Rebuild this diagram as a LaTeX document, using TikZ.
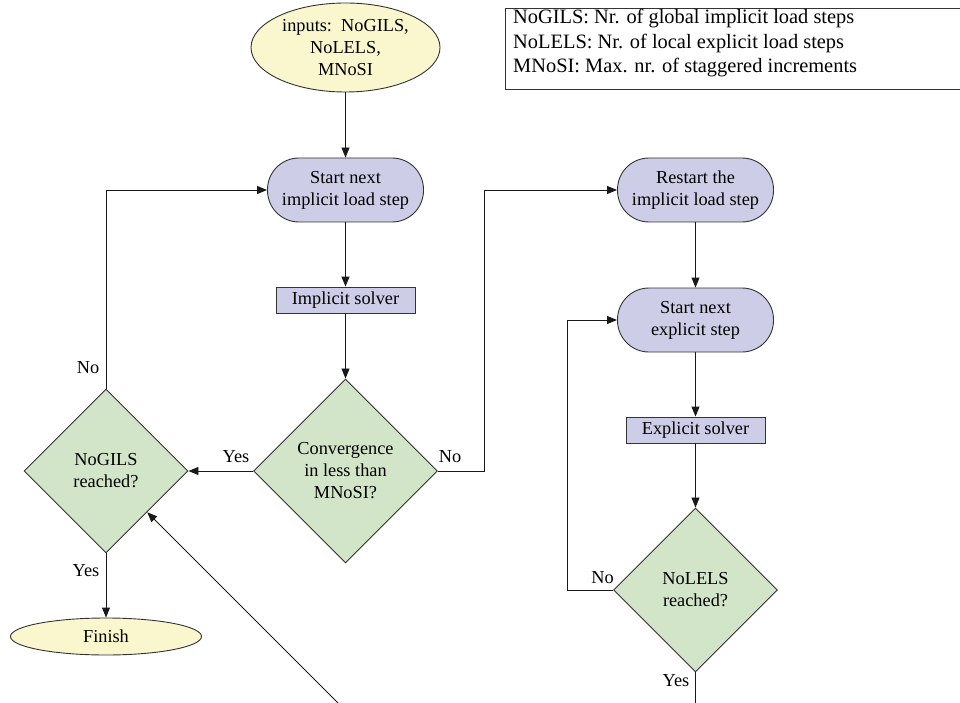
\documentclass[tikz,border=0pt]{standalone}
\usepackage{fontspec}
\setmainfont{Liberation Serif}
\usetikzlibrary{shapes.geometric,arrows.meta}
\definecolor{yel}{RGB}{250,247,206}
\definecolor{lav}{RGB}{205,205,232}
\definecolor{grn}{RGB}{210,229,200}
\begin{document}
\begin{tikzpicture}[x=1pt,y=-1pt,
 nodefont/.style={font=\fontsize{18.3}{22}\selectfont},
 legfont/.style={font=\fontsize{20.4}{24.5}\selectfont},
 term/.style={ellipse, draw=black!80, fill=yel, nodefont, inner sep=0pt, align=center, line width=0.9pt},
 stadium/.style={rectangle, rounded corners=31.5pt, draw=black!80, fill=lav, minimum width=156pt, minimum height=64pt, nodefont, align=center, inner sep=0pt, line width=0.9pt},
 proc/.style={rectangle, draw=black!80, fill=lav, minimum width=139pt, minimum height=26pt, inner sep=0pt, nodefont, line width=0.9pt},
 decision/.style={diamond, draw=black!80, fill=grn, inner sep=0pt, nodefont, align=center, line width=0.9pt},
 arr/.style={-{Triangle[length=10pt,width=8pt]}, line width=0.9pt, draw=black!90},
 conn/.style={line width=0.9pt, draw=black!90},
 lbl/.style={nodefont, inner sep=0pt}
]
\useasboundingbox (0,0) rectangle (960,703);
\clip (0,0) rectangle (960,703);

% nodes
\node[term, minimum width=189pt, minimum height=89pt] (inp) at (345.5,47.5) {inputs:\ \ NoGILS,\\NoLELS,\\MNoSI};
\node[stadium] (sni) at (345.5,190) {Start next\\implicit load step};
\node[proc] (isol) at (345.5,300) {Implicit solver};
\node[decision, minimum width=184pt, minimum height=184pt] (conv) at (345.5,471) {Convergence\\in less than\\MNoSI?};
\node[decision, minimum width=164pt, minimum height=164pt] (nogils) at (106,471) {NoGILS\\reached?};
\node[term, minimum width=191pt, minimum height=37pt] (fin) at (106,636.5) {Finish};
\node[stadium] (rst) at (695.5,190) {Restart the\\implicit load step};
\node[stadium] (sne) at (695.5,320) {Start next\\explicit step};
\node[proc] (esol) at (695.5,430) {Explicit solver};
\node[decision, minimum width=164pt, minimum height=164pt] (nolels) at (695.5,590) {NoLELS\\reached?};

% legend
\node[draw=black!80, line width=0.9pt, anchor=north west, minimum width=470pt, minimum height=81pt, inner sep=0pt] (leg) at (505,8) {};
\node[legfont, anchor=base west, inner sep=0pt] (lg1) at (513,24) {NoGILS: Nr. of global implicit load steps};
\node[legfont, anchor=base west, inner sep=0pt] (lg2) at (513,48.5) {NoLELS: Nr. of local explicit load steps};
\node[legfont, anchor=base west, inner sep=0pt] (lg3) at (513,73) {MNoSI: Max. nr. of staggered increments};

% free ends
\coordinate (offa) at (695.5,720);
\coordinate (offb) at (356,721);

% connectors
\draw[arr] (inp) -- (sni);
\draw[arr] (sni) -- (isol);
\draw[arr] (isol) -- (conv);
\draw[arr] (conv) -- (nogils);
\draw[arr] (nogils.north) |- (sni.west);
\draw[arr] (nogils) -- (fin);
\draw[arr] (conv.east) -- ++(46,0) |- (rst.west);
\draw[arr] (rst) -- (sne);
\draw[arr] (sne) -- (esol);
\draw[arr] (esol) -- (nolels);
\draw[arr] (nolels.west) -- ++(-46,0) |- (sne.west);
\draw[conn] (nolels.south) -- (offa);
\draw[arr] (offb) -- (nogils);

% labels
\node[lbl] (l1) at (236,457) {Yes};
\node[lbl] (l2) at (450,457) {No};
\node[lbl] (l3) at (88,368) {No};
\node[lbl] (l4) at (86,571) {Yes};
\node[lbl] (l5) at (602.5,578) {No};
\node[lbl] (l6) at (676,681) {Yes};
\end{tikzpicture}
\end{document}
